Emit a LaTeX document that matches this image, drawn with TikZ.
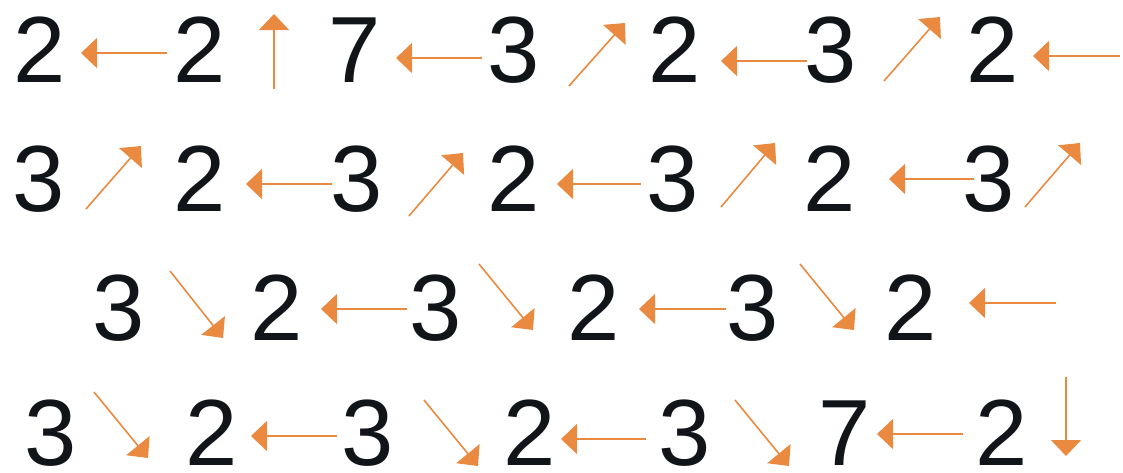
\documentclass[tikz,border=0pt]{standalone}
\usepackage{fontspec}
\setmainfont{Liberation Sans}
\usetikzlibrary{arrows.meta}
\definecolor{arr}{RGB}{234,137,64}
\definecolor{ink}{RGB}{17,20,24}
\tikzset{
  dig/.style={anchor=base,inner sep=0pt,text depth=0pt,text=ink,font=\fontsize{94}{94}\selectfont},
  arrline/.style={draw=arr,line width=1.6pt,-{Triangle[length=16pt,width=30pt]}}
}
\begin{document}
\begin{tikzpicture}[x=1pt,y=-1pt]
\useasboundingbox (0,0) rectangle (1123,472);
% row 1
\node[dig] (r1a) at (39.5,82) {2};
\node[dig] (r1b) at (199.5,82) {2};
\node[dig] (r1c) at (355,82) {7};
\node[dig] (r1d) at (513.5,82) {3};
\node[dig] (r1e) at (674.5,82) {2};
\node[dig] (r1f) at (831,82) {3};
\node[dig] (r1g) at (992.5,82) {2};
\coordinate (p1as) at (167,53);  \coordinate (p1ae) at (81,53);
\coordinate (p1bs) at (274,89);  \coordinate (p1be) at (274,14);
\coordinate (p1cs) at (482,58);  \coordinate (p1ce) at (396,58);
\coordinate (p1ds) at (569,86);  \coordinate (p1de) at (625,23);
\coordinate (p1es) at (807,61);  \coordinate (p1ee) at (721,61);
\coordinate (p1fs) at (884,81);  \coordinate (p1fe) at (940,17);
\coordinate (p1gs) at (1120,56); \coordinate (p1ge) at (1033,56);
\foreach \n in {a,b,c,d,e,f,g} \draw[arrline] (p1\n s) -- (p1\n e);
% row 2
\node[dig] (r2a) at (39,211) {3};
\node[dig] (r2b) at (200,211) {2};
\node[dig] (r2c) at (357,211) {3};
\node[dig] (r2d) at (514,211) {2};
\node[dig] (r2e) at (673,211) {3};
\node[dig] (r2f) at (830,211) {2};
\node[dig] (r2g) at (989,211) {3};
\coordinate (p2as) at (86,209);   \coordinate (p2ae) at (141,146);
\coordinate (p2bs) at (332,184);  \coordinate (p2be) at (246,184);
\coordinate (p2cs) at (409,216);  \coordinate (p2ce) at (463,153);
\coordinate (p2ds) at (641,184);  \coordinate (p2de) at (557,184);
\coordinate (p2es) at (721,207);  \coordinate (p2ee) at (775,143);
\coordinate (p2fs) at (974,179);  \coordinate (p2fe) at (889,179);
\coordinate (p2gs) at (1025,207); \coordinate (p2ge) at (1080,143);
\foreach \n in {a,b,c,d,e,f,g} \draw[arrline] (p2\n s) -- (p2\n e);
% row 3
\node[dig] (r3a) at (119,340) {3};
\node[dig] (r3b) at (277,340) {2};
\node[dig] (r3c) at (436,340) {3};
\node[dig] (r3d) at (594,340) {2};
\node[dig] (r3e) at (753,340) {3};
\node[dig] (r3f) at (911,340) {2};
\coordinate (p3as) at (170,271);  \coordinate (p3ae) at (223,338);
\coordinate (p3bs) at (407,309);  \coordinate (p3be) at (321,309);
\coordinate (p3cs) at (479,264);  \coordinate (p3ce) at (533,330);
\coordinate (p3ds) at (726,309);  \coordinate (p3de) at (639,309);
\coordinate (p3es) at (800,264);  \coordinate (p3ee) at (854,330);
\coordinate (p3fs) at (1056,303); \coordinate (p3fe) at (969,303);
\foreach \n in {a,b,c,d,e,f} \draw[arrline] (p3\n s) -- (p3\n e);
% row 4
\node[dig] (r4a) at (51,465) {3};
\node[dig] (r4b) at (212,465) {2};
\node[dig] (r4c) at (368,465) {3};
\node[dig] (r4d) at (530,465) {2};
\node[dig] (r4e) at (685,465) {3};
\node[dig] (r4f) at (845,465) {7};
\node[dig] (r4g) at (1002,465) {2};
\coordinate (p4as) at (94,392);   \coordinate (p4ae) at (148,458);
\coordinate (p4bs) at (337,436);  \coordinate (p4be) at (251,436);
\coordinate (p4cs) at (424,400);  \coordinate (p4ce) at (478,466);
\coordinate (p4ds) at (646,439);  \coordinate (p4de) at (561,439);
\coordinate (p4es) at (735,400);  \coordinate (p4ee) at (789,466);
\coordinate (p4fs) at (963,434);  \coordinate (p4fe) at (877,434);
\coordinate (p4gs) at (1066,377); \coordinate (p4ge) at (1066,456);
\foreach \n in {a,b,c,d,e,f,g} \draw[arrline] (p4\n s) -- (p4\n e);
\end{tikzpicture}
\end{document}
